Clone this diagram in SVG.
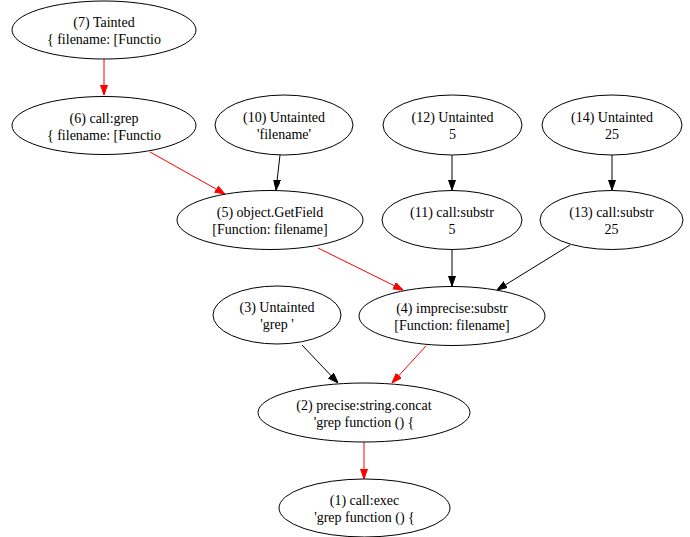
<svg xmlns="http://www.w3.org/2000/svg" width="690" height="537" viewBox="0 0 690 537">
<defs>
<style>
.n ellipse{fill:none;stroke:#000;stroke-width:1}
.n text{font-family:"Liberation Serif","Times New Roman",serif;font-size:14px;text-anchor:middle;fill:#000}
.e{fill:none;stroke-width:1}
.k{stroke:#000}
.r{stroke:#ff0000}
</style>
<marker id="ak" markerUnits="userSpaceOnUse" markerWidth="10" markerHeight="8" refX="10" refY="3.5" orient="auto"><path d="M0,0 L10,3.5 L0,7 z" fill="#000" stroke="#000"/></marker>
<marker id="ar" markerUnits="userSpaceOnUse" markerWidth="10" markerHeight="8" refX="10" refY="3.5" orient="auto"><path d="M0,0 L10,3.5 L0,7 z" fill="#ff0000" stroke="#ff0000"/></marker>
</defs>
<rect width="690" height="537" fill="#fff"/>
<g id="edges">
<line class="e r" x1="104" y1="59" x2="104" y2="95" marker-end="url(#ar)"/>
<line class="e r" x1="150" y1="152" x2="225" y2="194" marker-end="url(#ar)"/>
<line class="e k" x1="280" y1="155" x2="276" y2="190" marker-end="url(#ak)"/>
<line class="e k" x1="452" y1="155" x2="452" y2="190" marker-end="url(#ak)"/>
<line class="e k" x1="612" y1="155" x2="612" y2="190" marker-end="url(#ak)"/>
<line class="e r" x1="318" y1="248" x2="403" y2="290" marker-end="url(#ar)"/>
<line class="e k" x1="452" y1="250" x2="452" y2="286" marker-end="url(#ak)"/>
<line class="e k" x1="570" y1="245" x2="497" y2="290" marker-end="url(#ak)"/>
<line class="e k" x1="302" y1="345" x2="338" y2="383" marker-end="url(#ak)"/>
<line class="e r" x1="426" y1="346" x2="392" y2="383" marker-end="url(#ar)"/>
<line class="e r" x1="364" y1="442" x2="364" y2="479" marker-end="url(#ar)"/>
</g>
<g id="n7" class="n"><ellipse cx="104" cy="30" rx="92" ry="29"/><text x="104" y="27">(7) Tainted</text><text x="104" y="44">{ filename: [Functio</text></g>
<g id="n6" class="n"><ellipse cx="104" cy="125.5" rx="92" ry="29"/><text x="104" y="122.5">(6) call:grep</text><text x="104" y="139.5">{ filename: [Functio</text></g>
<g id="n10" class="n"><ellipse cx="284" cy="125" rx="69" ry="30"/><text x="284" y="122">(10) Untainted</text><text x="284" y="139">'filename'</text></g>
<g id="n12" class="n"><ellipse cx="452.5" cy="125" rx="69.5" ry="30"/><text x="452.5" y="122">(12) Untainted</text><text x="452.5" y="139">5</text></g>
<g id="n14" class="n"><ellipse cx="612" cy="125" rx="70" ry="30"/><text x="612" y="122">(14) Untainted</text><text x="612" y="139">25</text></g>
<g id="n5" class="n"><ellipse cx="270" cy="220" rx="93" ry="29.5"/><text x="270" y="217">(5) object.GetField</text><text x="270" y="234">[Function: filename]</text></g>
<g id="n11" class="n"><ellipse cx="452" cy="220" rx="70" ry="29.5"/><text x="452" y="217">(11) call:substr</text><text x="452" y="234">5</text></g>
<g id="n13" class="n"><ellipse cx="611.5" cy="220" rx="71.5" ry="29.5"/><text x="611.5" y="217">(13) call:substr</text><text x="611.5" y="234">25</text></g>
<g id="n3" class="n"><ellipse cx="277" cy="315" rx="64" ry="29"/><text x="277" y="312">(3) Untainted</text><text x="277" y="329">'grep '</text></g>
<g id="n4" class="n"><ellipse cx="452" cy="316" rx="93" ry="29.5"/><text x="452" y="313">(4) imprecise:substr</text><text x="452" y="330">[Function: filename]</text></g>
<g id="n2" class="n"><ellipse cx="364" cy="412.5" rx="106" ry="29.5"/><text x="364" y="409.5">(2) precise:string.concat</text><text x="364" y="426.5">'grep function () {</text></g>
<g id="n1" class="n"><ellipse cx="364.5" cy="508" rx="85.5" ry="29"/><text x="364.5" y="505">(1) call:exec</text><text x="364.5" y="522">'grep function () {</text></g>
</svg>
